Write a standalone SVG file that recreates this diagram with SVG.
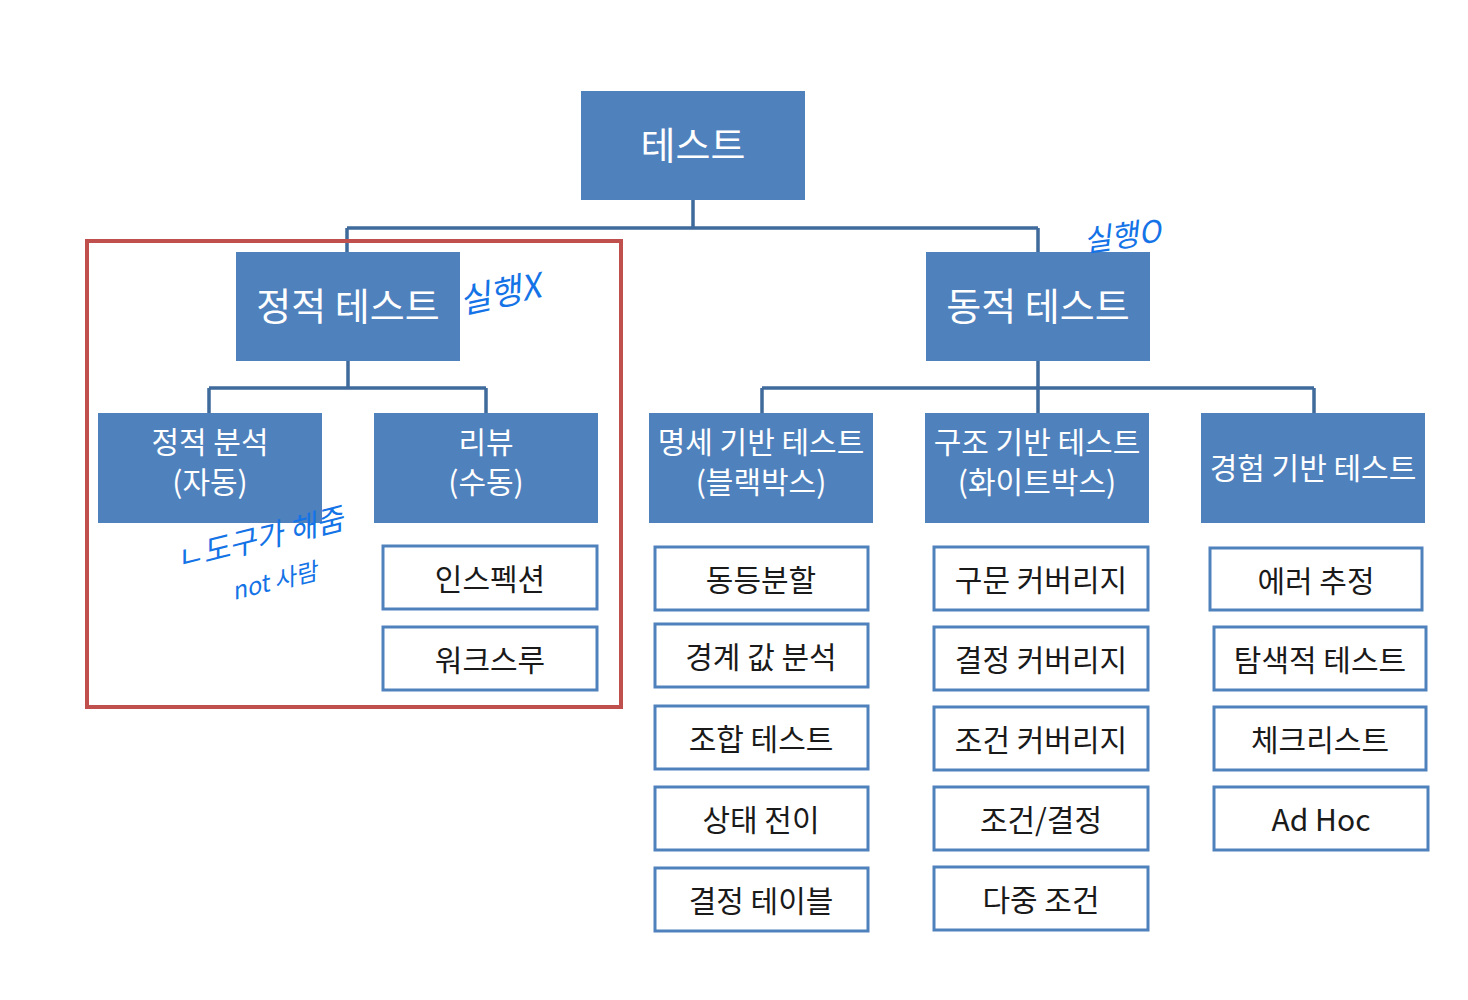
<svg xmlns="http://www.w3.org/2000/svg" width="1468" height="1000" viewBox="0 0 1468 1000">
<style>
.hd{fill:#4f81bd;}
.lf{fill:#ffffff;stroke:#4f81bd;stroke-width:3;}
.ht{font-family:"Noto Sans CJK KR","Noto Sans",sans-serif;fill:#ffffff;text-anchor:middle;}
.lt{font-family:"Noto Sans CJK KR","Noto Sans",sans-serif;fill:#1a1a1a;text-anchor:middle;font-size:30px;}
.cn{fill:none;stroke:#3f6a9c;stroke-width:3.5;}
.hw{font-family:"Noto Sans CJK KR",sans-serif;fill:#1473e6;font-style:italic;}
</style>
<rect width="1468" height="1000" fill="#ffffff"/>
<g id="connectors">
<path class="cn" d="M693 200 V228 M347 228 H1038 M347 228 V252 M1038 228 V252"/>
<path class="cn" d="M348 361 V388 M209 388 H486 M209 388 V413 M486 388 V413"/>
<path class="cn" d="M1038 361 V413 M762 388 H1314 M762 388 V413 M1314 388 V413"/>
</g>
<g id="static-frame"><rect x="87" y="241" width="534" height="466" fill="none" stroke="#c0504d" stroke-width="4"/></g>
<g id="n-test"><rect class="hd" x="581" y="91" width="224" height="109"/><text class="ht" x="693" y="159" font-size="38">테스트</text></g>
<g id="n-static"><rect class="hd" x="236" y="252" width="224" height="109"/><text class="ht" x="348" y="320" font-size="38">정적 테스트</text></g>
<g id="n-dynamic"><rect class="hd" x="926" y="252" width="224" height="109"/><text class="ht" x="1038" y="320" font-size="38">동적 테스트</text></g>
<g id="n-analysis"><rect class="hd" x="98" y="413" width="224" height="110"/><text class="ht" x="210" y="453" font-size="30">정적 분석</text><text class="ht" x="210" y="493" font-size="30">(자동)</text></g>
<g id="n-review"><rect class="hd" x="374" y="413" width="224" height="110"/><text class="ht" x="486" y="453" font-size="30">리뷰</text><text class="ht" x="486" y="493" font-size="30">(수동)</text></g>
<g id="n-spec"><rect class="hd" x="649" y="413" width="224" height="110"/><text class="ht" x="761" y="453" font-size="30">명세 기반 테스트</text><text class="ht" x="761" y="493" font-size="30">(블랙박스)</text></g>
<g id="n-struct"><rect class="hd" x="925" y="413" width="224" height="110"/><text class="ht" x="1037" y="453" font-size="30">구조 기반 테스트</text><text class="ht" x="1037" y="493" font-size="30">(화이트박스)</text></g>
<g id="n-exp"><rect class="hd" x="1201" y="413" width="224" height="110"/><text class="ht" x="1313" y="479" font-size="30">경험 기반 테스트</text></g>
<g id="n-inspection"><rect class="lf" x="383" y="546" width="214" height="63"/><text class="lt" x="490" y="590">인스펙션</text></g>
<g id="n-walkthrough"><rect class="lf" x="383" y="627" width="214" height="63"/><text class="lt" x="490" y="671">워크스루</text></g>
<g id="n-ep"><rect class="lf" x="655" y="547" width="213" height="63"/><text class="lt" x="761" y="591">동등분할</text></g>
<g id="n-bva"><rect class="lf" x="655" y="624" width="213" height="63"/><text class="lt" x="761" y="668">경계 값 분석</text></g>
<g id="n-comb"><rect class="lf" x="655" y="706" width="213" height="63"/><text class="lt" x="761" y="750">조합 테스트</text></g>
<g id="n-state"><rect class="lf" x="655" y="787" width="213" height="63"/><text class="lt" x="761" y="831">상태 전이</text></g>
<g id="n-dtable"><rect class="lf" x="655" y="868" width="213" height="63"/><text class="lt" x="761" y="912">결정 테이블</text></g>
<g id="n-stmt"><rect class="lf" x="934" y="547" width="214" height="63"/><text class="lt" x="1041" y="591">구문 커버리지</text></g>
<g id="n-dec"><rect class="lf" x="934" y="627" width="214" height="63"/><text class="lt" x="1041" y="671">결정 커버리지</text></g>
<g id="n-cond"><rect class="lf" x="934" y="707" width="214" height="63"/><text class="lt" x="1041" y="751">조건 커버리지</text></g>
<g id="n-cd"><rect class="lf" x="934" y="787" width="214" height="63"/><text class="lt" x="1041" y="831">조건/결정</text></g>
<g id="n-multi"><rect class="lf" x="934" y="867" width="214" height="63"/><text class="lt" x="1041" y="911">다중 조건</text></g>
<g id="n-error"><rect class="lf" x="1210" y="548" width="212" height="62"/><text class="lt" x="1316" y="592">에러 추정</text></g>
<g id="n-explore"><rect class="lf" x="1214" y="627" width="212" height="63"/><text class="lt" x="1320" y="671">탐색적 테스트</text></g>
<g id="n-check"><rect class="lf" x="1214" y="707" width="212" height="63"/><text class="lt" x="1320" y="751">체크리스트</text></g>
<g id="n-adhoc"><rect class="lf" x="1214" y="787" width="214" height="63"/><text class="lt" x="1321" y="831">Ad Hoc</text></g>
<g id="annotations">
<text class="hw" x="462" y="314" font-size="34" transform="rotate(-12 462 314)">실행X</text>
<text class="hw" x="1085" y="252" font-size="30" transform="rotate(-8 1085 252)">실행O</text>
<text class="hw" x="178" y="570" font-size="30" transform="rotate(-14 178 570)">ㄴ도구가 해줌</text>
<text class="hw" x="234" y="600" font-size="24" transform="rotate(-14 234 600)">not 사람</text>
</g>
</svg>
